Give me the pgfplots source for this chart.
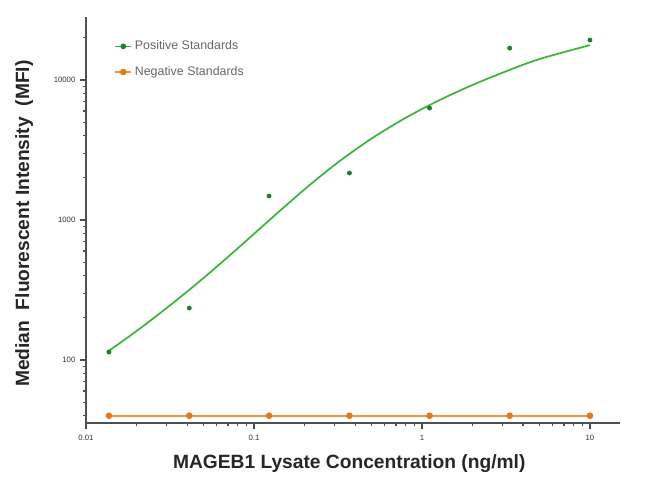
\documentclass[border=0pt]{standalone}
\usepackage{fontspec}
\setmainfont{Liberation Sans}
\usepackage{pgfplots}
\pgfplotsset{compat=1.18}

\begin{document}
\begin{tikzpicture}
\definecolor{posLine}{HTML}{3CB43C}
\definecolor{posMark}{HTML}{1E7F2A}
\definecolor{negLine}{HTML}{F39436}
\definecolor{negMark}{HTML}{E8781A}
\definecolor{axisGray}{HTML}{505050}
\useasboundingbox (-64.5pt,-46.5pt) rectangle (423pt,317.25pt);
\begin{axis}[
	scale only axis,
	width=400.5pt, height=304.5pt,
	xmode=log, ymode=log,
	xmin=0.01, xmax=15.1,
	ymin=35.5, ymax=28200,
	axis x line=bottom, axis y line=left,
	axis line style={-, draw=axisGray, line width=1.3pt},
	tick align=outside,
	major tick length=4.5pt, minor tick length=2.2pt,
	tick style={draw=axisGray, line width=0.9pt},
	xtick={0.01,0.1,1,10}, xticklabels={0.01,0.1,1,10},
	ytick={100,1000,10000}, yticklabels={100,1000,10000},
	minor xtick={0.02,0.03,0.04,0.05,0.06,0.07,0.08,0.09,
		0.2,0.3,0.4,0.5,0.6,0.7,0.8,0.9,2,3,4,5,6,7,8,9},
	minor ytick={40,50,60,70,80,90,200,300,400,500,600,700,800,900,
		2000,3000,4000,5000,6000,7000,8000,9000,20000},
	tick label style={font=\fontsize{5.8}{6}\selectfont, text=black!80},
	xticklabel style={yshift=-1pt},
	xlabel={MAGEB1 Lysate Concentration (ng/ml)},
	ylabel={Median\ \ Fluorescent Intensity\ \ (MFI)},
	every axis x label/.style={at={(axis description cs:0.493,-0.1)},
		anchor=center, font=\fontsize{14.4}{16}\selectfont\bfseries, text=black!85},
	every axis y label/.style={at={(axis description cs:-0.116,0.491)},
		rotate=90, anchor=center, font=\fontsize{14.4}{16}\selectfont\bfseries, text=black!85},
	legend style={at={(axis description cs:0.045,0.955)}, anchor=north west,
		draw=none, fill=none, font=\fontsize{9.3}{11}\selectfont, text=black!60,
		row sep=7pt, cells={anchor=west}},
	legend image code/.code={
		\draw[mark repeat=2,mark phase=2] plot coordinates {(0cm,0cm) (0.21cm,0cm) (0.42cm,0cm)};},
]
% legend samples
\addlegendimage{posLine, line width=1.2pt, mark=*, mark size=1.5pt, mark options={fill=posMark, draw=posMark}}
\addlegendentry{Positive Standards}

% fitted curve of the positive standards
\addplot[posLine, line width=1.3pt, smooth, forget plot] coordinates {
	(0.01334,114) (0.01995,160.7) (0.03162,245.5) (0.05012,385.5)
	(0.07943,622.3) (0.1259,1019) (0.1995,1652) (0.3162,2582)
	(0.5012,3819) (0.7943,5346) (1.259,7145) (1.995,9204)
	(3.162,11535) (5.012,14125) (10,17750)
};
% positive standards
\addplot[only marks, mark=*, mark size=1.6pt, draw=posMark, fill=posMark, forget plot] coordinates {
	(0.0137,114) (0.0412,235) (0.123,1484) (0.370,2166)
	(1.11,6310) (3.33,16900) (10,19300)
};
% negative standards
\addplot[negLine, line width=1.5pt, mark=*, mark size=1.7pt, mark options={fill=negMark, draw=negMark}] coordinates {
	(0.0137,40) (0.0412,40) (0.123,40) (0.370,40)
	(1.11,40) (3.33,40) (10,40)
};
\addlegendentry{Negative Standards}
\end{axis}
\end{tikzpicture}
\end{document}
